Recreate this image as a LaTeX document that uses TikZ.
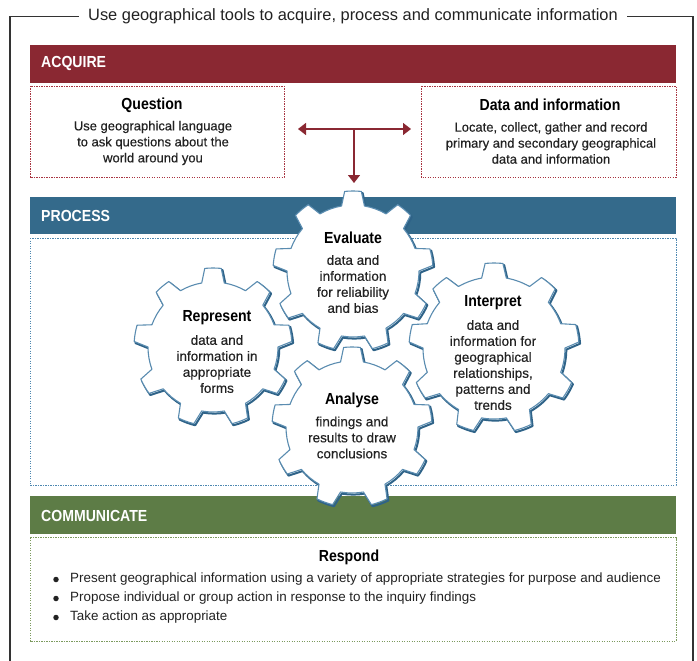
\documentclass[tikz,border=0pt]{standalone}
\usepackage{fontspec}
\setmainfont{Liberation Sans}
\newfontfamily\condf[FakeStretch=0.88]{Liberation Sans}
\newfontfamily\medf[FakeBold=0.35]{Liberation Sans}
\usetikzlibrary{arrows.meta}
\definecolor{acq}{HTML}{8A2832}
\definecolor{proc}{HTML}{346A8B}
\definecolor{comm}{HTML}{5D7C46}
\definecolor{acqdotc}{HTML}{A83440}
\definecolor{procdotc}{HTML}{4D87B0}
\definecolor{commdotc}{HTML}{7C9A5E}
\definecolor{gearln}{HTML}{5A8CB0}
\definecolor{gearsh}{HTML}{2F6388}
\definecolor{txt}{HTML}{222222}
\newcommand\fs[2]{\fontsize{#1}{#2}\selectfont}
\tikzset{
  frameline/.style={draw=black!80, line width=1.1pt},
  titlenode/.style={fill=white, inner xsep=9pt, inner ysep=2pt, text=txt, font=\fs{16.4}{19}},
  barlabel/.style={anchor=west, inner sep=0pt, text=white, font=\condf\bfseries\fs{16}{19}},
  dotbox/.style={line width=0.9pt, dash pattern=on 1.1pt off 1.4pt},
  heading/.style={inner sep=0pt, text=black, font=\condf\bfseries\fs{16}{19}},
  boxtext/.style={inner sep=0pt, align=center, text=txt, font=\medf\fs{13}{16}},
  geartext/.style={inner sep=0pt, align=center, text=txt, font=\medf\fs{13.5}{16}},
  bullettext/.style={inner sep=0pt, anchor=west, text=txt, font=\fs{13.4}{15}},
  bulletdot/.style={circle, inner sep=0pt, minimum size=5.5pt, fill=txt},
  arrowline/.style={draw=acq, line width=1.4pt},
  gearmain/.style={draw=gearln, line width=1.1pt, fill=white, line join=round},
  gearshadow/.style={draw=gearsh, line width=2pt, line join=round},
}
\newcommand\gear[3]{%
\begin{scope}[shift={(#1,#2)}, y=1pt]
\pgfmathsetmacro\gR{#3}\pgfmathsetmacro\gr{#3-14}
\draw[gearshadow, shift={(1.3,-1.6)}] (80:\gr) \foreach \k in {0,...,8}{ -- ({84+40*\k}:\gR) arc[start angle={84+40*\k}, end angle={96+40*\k}, radius=\gR] -- ({100+40*\k}:\gr) arc[start angle={100+40*\k}, end angle={120+40*\k}, radius=\gr]} -- cycle;
\draw[gearmain] (80:\gr) \foreach \k in {0,...,8}{ -- ({84+40*\k}:\gR) arc[start angle={84+40*\k}, end angle={96+40*\k}, radius=\gR] -- ({100+40*\k}:\gr) arc[start angle={100+40*\k}, end angle={120+40*\k}, radius=\gr]} -- cycle;
\end{scope}}
\begin{document}
\begin{tikzpicture}[x=1pt, y=-1pt]
\useasboundingbox (0,0) rectangle (697,661);
\fill[white] (0,0) rectangle (697,661);
% outer frame
\draw[frameline] (10,661) -- (10,16.5) -- (693,16.5) -- (693,661);
\node[titlenode] (title) at (353,16.5) {Use geographical tools to acquire, process and communicate information};
% ACQUIRE
\fill[acq] (30,45) rectangle (676,83);
\node[barlabel] (acqlbl) at (41,63.5) {ACQUIRE};
\draw[dotbox, draw=acqdotc] (30,86) rectangle (284,177);
\draw[dotbox, draw=acqdotc] (421,86) rectangle (676,177);
\node[heading] (qtitle) at (152,105) {Question};
\node[boxtext] (qtext) at (153,143) {Use geographical language\\to ask questions about the\\world around you};
\node[heading] (dtitle) at (550,105) {Data and information};
\node[boxtext] (dtext) at (551,143) {Locate, collect, gather and record\\primary and secondary geographical\\data and information};
\coordinate (aL) at (298,129);
\coordinate (aR) at (411,129);
\coordinate (aJ) at (354,129);
\coordinate (aD) at (354,183);
\draw[arrowline, {Triangle[length=8pt,width=12pt]}-{Triangle[length=8pt,width=12pt]}] (aL) -- (aR);
\draw[arrowline, -{Triangle[length=8pt,width=12pt]}] (aJ) -- (aD);
% PROCESS
\fill[proc] (30,197) rectangle (676,234);
\node[barlabel] (proclbl) at (41,215.5) {PROCESS};
\draw[dotbox, draw=procdotc] (30,238) rectangle (676,485);
% COMMUNICATE
\fill[comm] (30,496) rectangle (676,534);
\node[barlabel] (commlbl) at (41,515.5) {COMMUNICATE};
\draw[dotbox, draw=commdotc] (30,537.5) rectangle (676,641);
% gears
\gear{353}{271}{80}
\gear{213}{347}{79}
\gear{494}{348}{85}
\gear{352}{427}{80}
\node[heading] (evtitle) at (353,238) {Evaluate};
\node[geartext] (evtext) at (353,284) {data and\\information\\for reliability\\and bias};
\node[heading] (retitle) at (217,318) {Represent};
\node[geartext] (retext) at (217,364) {data and\\information in\\appropriate\\forms};
\node[heading] (intitle) at (493,303) {Interpret};
\node[geartext] (intext) at (493,365) {data and\\information for\\geographical\\relationships,\\patterns and\\trends};
\node[heading] (antitle) at (352,400) {Analyse};
\node[geartext] (antext) at (352,437.5) {findings and\\results to draw\\conclusions};
% respond
\node[heading] (rtitle) at (349,557) {Respond};
\node[bulletdot] (b1) at (56,579.5) {};
\node[bulletdot] (b2) at (56,598.5) {};
\node[bulletdot] (b3) at (56,617.5) {};
\node[bullettext] (t1) at (70,579) {Present geographical information using a variety of appropriate strategies for purpose and audience};
\node[bullettext] (t2) at (70,598) {Propose individual or group action in response to the inquiry findings};
\node[bullettext] (t3) at (70,617) {Take action as appropriate};
\end{tikzpicture}
\end{document}
